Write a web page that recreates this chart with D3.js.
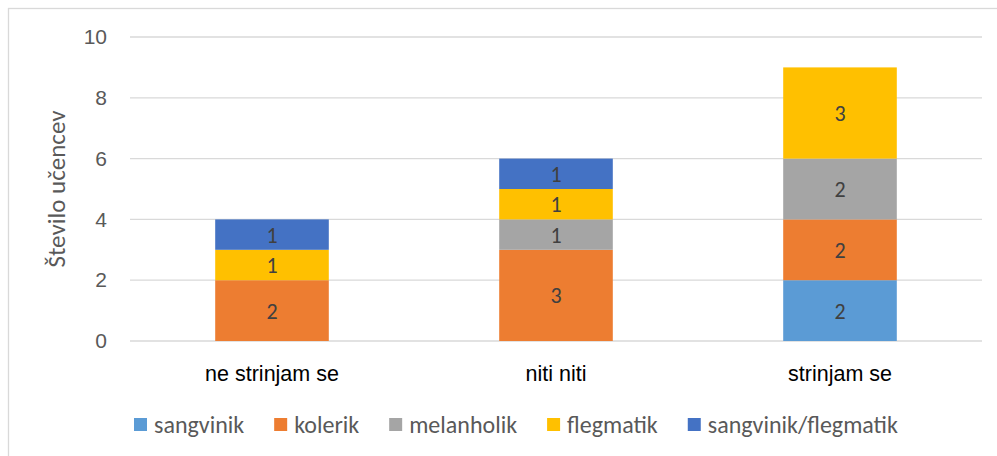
<!DOCTYPE html>
<html>
<head>
<meta charset="utf-8">
<script src="https://cdn.jsdelivr.net/npm/d3@7"></script>
<style>
  html, body { margin: 0; padding: 0; background: #fff; }
  svg { display: block; font-family: Carlito, Calibri, Lato, sans-serif; }
</style>
</head>
<body>
<div id="chart"></div>
<script>
const categories = ['ne strinjam se', 'niti niti', 'strinjam se'];
const seriesNames = ['sangvinik', 'kolerik', 'melanholik', 'flegmatik', 'sangvinik/flegmatik'];
const sangvinik = [0, 0, 2];
const kolerik = [2, 3, 2];
const melanholik = [0, 1, 2];
const flegmatik = [1, 1, 3];
const sangvinikFlegmatik = [1, 1, 0];
const yTicks = [0, 2, 4, 6, 8, 10];
const colors = ['#5b9bd5', '#ed7d31', '#a5a5a5', '#ffc000', '#4472c4'];

(function () {
    const width = 997;
    const height = 456;
    const plot = { left: 130, right: 982, top: 37, bottom: 341 };

    const svg = d3.select('#chart').append('svg')
        .attr('width', width)
        .attr('height', height);

    // chart area frame (runs off the right and bottom edge)
    svg.append('rect')
        .attr('x', 8.5).attr('y', 8.5)
        .attr('width', width + 20).attr('height', height + 20)
        .attr('fill', '#fff')
        .attr('stroke', '#d9d9d9')
        .attr('stroke-width', 1.3);

    const table = categories.map((c, i) => ({
        category: c,
        'sangvinik': sangvinik[i],
        'kolerik': kolerik[i],
        'melanholik': melanholik[i],
        'flegmatik': flegmatik[i],
        'sangvinik/flegmatik': sangvinikFlegmatik[i]
    }));
    const stacked = d3.stack().keys(seriesNames)(table);

    const x = d3.scaleBand().domain(categories).range([plot.left, plot.right]);
    const y = d3.scaleLinear().domain([0, 10]).range([plot.bottom, plot.top]);
    const barW = x.bandwidth() * 0.4;

    // gridlines
    svg.append('g')
        .selectAll('line')
        .data(yTicks)
        .join('line')
        .attr('x1', plot.left).attr('x2', plot.right)
        .attr('y1', d => y(d)).attr('y2', d => y(d))
        .attr('stroke', '#d9d9d9')
        .attr('stroke-width', 1.3);

    // y axis tick labels
    const yAxis = svg.append('g')
        .attr('transform', `translate(${plot.left - 23},0)`)
        .call(d3.axisLeft(y).tickValues(yTicks).tickSize(0).tickPadding(0));
    yAxis.select('.domain').remove();
    yAxis.selectAll('text')
        .attr('font-size', 21)
        .attr('font-family', null)
        .attr('fill', '#595959');

    // bars
    const layers = svg.append('g').selectAll('g')
        .data(stacked)
        .join('g')
        .attr('fill', (d, i) => colors[i]);

    layers.selectAll('rect')
        .data(d => d.filter(p => p[1] > p[0]))
        .join('rect')
        .attr('x', d => x(d.data.category) + (x.bandwidth() - barW) / 2)
        .attr('y', d => y(d[1]))
        .attr('width', barW)
        .attr('height', d => y(d[0]) - y(d[1]));

    // data labels
    const labels = svg.append('g');
    stacked.forEach(layer => {
        layer.filter(p => p[1] > p[0]).forEach(p => {
            labels.append('text')
                .attr('x', x(p.data.category) + x.bandwidth() / 2)
                .attr('y', y((p[0] + p[1]) / 2))
                .attr('dy', '0.36em')
                .attr('text-anchor', 'middle')
                .attr('font-size', 22)
                .attr('fill', '#404040')
                .text(p[1] - p[0]);
        });
    });

    // category labels
    const xAxis = svg.append('g')
        .attr('transform', `translate(0,${plot.bottom})`)
        .call(d3.axisBottom(x).tickSize(0).tickPadding(0));
    xAxis.select('.domain').remove();
    xAxis.selectAll('text')
        .attr('y', 40)
        .attr('dy', 0)
        .attr('font-size', 21.5)
        .attr('font-family', null)
        .attr('fill', '#000');

    // y axis title
    svg.append('text')
        .attr('transform', `translate(65,${(plot.top + plot.bottom) / 2}) rotate(-90)`)
        .attr('text-anchor', 'middle')
        .attr('font-size', 25)
        .attr('fill', '#595959')
        .text('Število učencev');

    // legend
    const legend = svg.append('g').attr('transform', 'translate(134,425)');
    let lx = 0;
    seriesNames.forEach((name, i) => {
        const item = legend.append('g').attr('transform', `translate(${lx},0)`);
        item.append('rect')
            .attr('x', 0).attr('y', -7)
            .attr('width', 13).attr('height', 13)
            .attr('fill', colors[i]);
        const t = item.append('text')
            .attr('x', 20)
            .attr('dy', '0.35em')
            .attr('font-size', 24)
            .attr('fill', '#595959')
            .text(name);
        lx += 20 + t.node().getComputedTextLength() + 30;
    });
})();
</script>
</body>
</html>
